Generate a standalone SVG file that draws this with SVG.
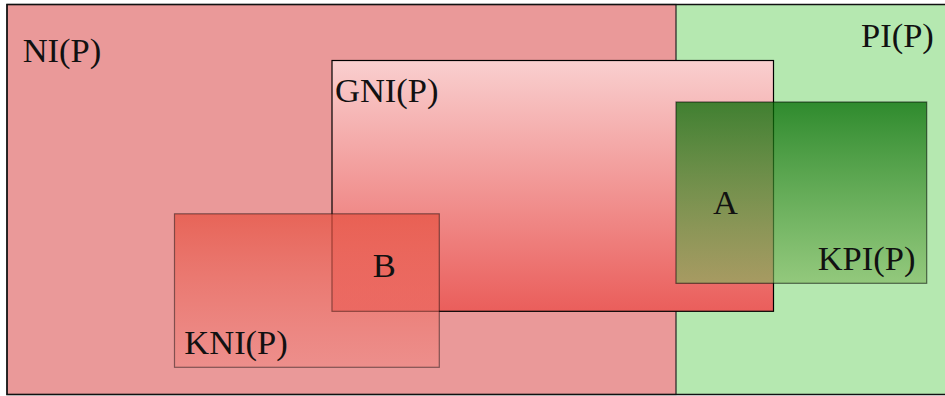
<svg xmlns="http://www.w3.org/2000/svg" width="945" height="396" viewBox="0 0 945 396">
<defs>
<linearGradient id="gGNI" x1="0" y1="0" x2="0" y2="1">
<stop offset="0" stop-color="#f9cfcf"/>
<stop offset="1" stop-color="#ea5e5b"/>
</linearGradient>
<linearGradient id="gKNI" x1="0" y1="0" x2="0" y2="1">
<stop offset="0" stop-color="#e6503f" stop-opacity="0.72"/>
<stop offset="1" stop-color="#f0847e" stop-opacity="0.5"/>
</linearGradient>
<linearGradient id="gKPI" x1="0" y1="0" x2="0" y2="1">
<stop offset="0" stop-color="#006a00" stop-opacity="0.74"/>
<stop offset="1" stop-color="#7fb65e" stop-opacity="0.63"/>
</linearGradient>
<style>
text{font-family:"Liberation Serif","Times New Roman",serif;font-size:34.5px;fill:#111;}
.edge{stroke:#000;stroke-width:1.2;}
</style>
</defs>
<g id="PI">
<rect x="676" y="4.5" width="280" height="390" fill="#b5e8b0"/>
<text x="861" y="46.7">PI(P)</text>
</g>
<g id="NI">
<rect x="7" y="4.5" width="669" height="390" fill="#ea9999" stroke="#222" stroke-width="1.2"/>
<text x="22.7" y="61.7">NI(P)</text>
</g>
<g id="GNI">
<rect x="332" y="60.5" width="441.5" height="250.8" fill="url(#gGNI)" class="edge"/>
<text x="335" y="102">GNI(P)</text>
</g>
<g id="KNI">
<rect x="174.5" y="213.8" width="264.8" height="153.5" fill="url(#gKNI)" stroke="#000" stroke-opacity="0.45" stroke-width="1.2"/>
<text x="184.3" y="354">KNI(P)</text>
</g>
<g id="KPI">
<rect x="676" y="102" width="250.7" height="181.3" fill="url(#gKPI)" stroke="#000" stroke-opacity="0.55" stroke-width="1.2"/>
<text x="817.7" y="270">KPI(P)</text>
</g>
<g id="A"><text x="713" y="214.3">A</text></g>
<g id="B"><text x="372.7" y="277.3">B</text></g>
<g id="connectors"></g>
<rect x="7" y="4.5" width="950" height="390" fill="none" stroke="#111" stroke-width="1.5"/>
</svg>
